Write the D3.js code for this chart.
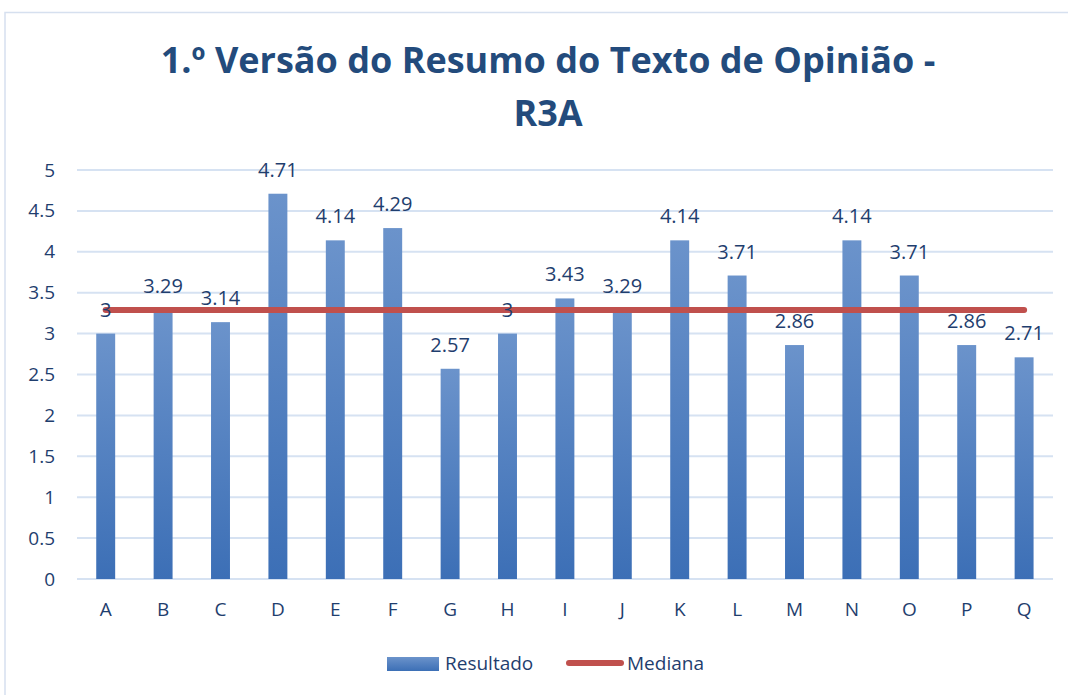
<!DOCTYPE html>
<html>
<head>
<meta charset="utf-8">
<script src="https://cdn.jsdelivr.net/npm/d3@7"></script>
<style>
  body { margin: 0; background: #fff; overflow: hidden; }
  text { font-family: "Open Sans", "Noto Sans", sans-serif; }
</style>
</head>
<body>
<div class="chart"></div>
<script>
var categories = ["A", "B", "C", "D", "E", "F", "G", "H", "I", "J", "K", "L", "M", "N", "O", "P", "Q"];
var resultado = [3, 3.29, 3.14, 4.71, 4.14, 4.29, 2.57, 3, 3.43, 3.29, 4.14, 3.71, 2.86, 4.14, 3.71, 2.86, 2.71];
var mediana = 3.29;
var yTicks = [0, 0.5, 1, 1.5, 2, 2.5, 3, 3.5, 4, 4.5, 5];
var titleLines = ["1.º Versão do Resumo do Texto de Opinião -", "R3A"];
var legendNames = ["Resultado", "Mediana"];

var W = 1068, H = 695;
var margins = { top: 170, left: 77, right: 15, bottom: 116 };
var width = W - margins.left - margins.right;
var height = H - margins.top - margins.bottom;
var textColor = "#1f3e6e";

var svg = d3.select('.chart')
    .append('svg')
    .attr('width', W)
    .attr('height', H)
    .style('display', 'block');

// gradient for bars
var defs = svg.append('defs');
var grad = defs.append('linearGradient')
    .attr('id', 'barGrad')
    .attr('x1', 0).attr('y1', 0).attr('x2', 0).attr('y2', 1);
grad.append('stop').attr('offset', '0%').attr('stop-color', '#6b93cb');
grad.append('stop').attr('offset', '100%').attr('stop-color', '#3c6fb6');

// chart border (only left and top edges show in the picture)
svg.append('path')
    .attr('d', 'M5,' + H + 'V12.5H' + W)
    .attr('fill', 'none')
    .attr('stroke', '#d6e0ef')
    .attr('stroke-width', 1.5);

// title
titleLines.forEach(function (t, i) {
    svg.append('text')
        .attr('x', 548)
        .attr('y', 73 + i * 53)
        .attr('text-anchor', 'middle')
        .attr('font-size', 36)
        .attr('font-weight', 'bold')
        .attr('fill', '#234b7c')
        .text(t);
});

var g = svg.append('g')
    .attr('transform', 'translate(' + margins.left + ',' + margins.top + ')');

var xScale = d3.scaleBand()
    .domain(categories)
    .range([0, 57.4 * categories.length])
    .paddingInner(0.67)
    .paddingOuter(0.335);

var yScale = d3.scaleLinear()
    .domain([0, 5])
    .range([height, 0]);

// gridlines
g.selectAll('line.grid')
    .data(yTicks)
    .enter()
    .append('line')
    .attr('class', 'grid')
    .attr('x1', 0)
    .attr('x2', 976)
    .attr('y1', function (d) { return yScale(d); })
    .attr('y2', function (d) { return yScale(d); })
    .attr('stroke', '#d6e2f2')
    .attr('stroke-width', 2);

// y axis labels
var yAxis = d3.axisLeft(yScale)
    .tickValues(yTicks)
    .tickSize(0)
    .tickPadding(22)
    .tickFormat(function (d) { return d; });
var ya = g.append('g').call(yAxis);
ya.select('.domain').remove();
ya.selectAll('text')
    .attr('font-size', 19)
    .attr('fill', textColor)
    .style('font-family', '"Open Sans", sans-serif');

// x axis labels
var xAxis = d3.axisBottom(xScale).tickSize(0).tickPadding(24);
var xa = g.append('g')
    .attr('transform', 'translate(0,' + height + ')')
    .call(xAxis);
xa.select('.domain').remove();
xa.selectAll('text')
    .attr('font-size', 19)
    .attr('fill', textColor)
    .style('font-family', '"Open Sans", sans-serif');

// bars
var data = categories.map(function (c, i) { return { cat: c, val: resultado[i] }; });
g.selectAll('rect.bar')
    .data(data)
    .enter()
    .append('rect')
    .attr('class', 'bar')
    .attr('x', function (d) { return xScale(d.cat); })
    .attr('y', function (d) { return yScale(d.val); })
    .attr('width', xScale.bandwidth())
    .attr('height', function (d) { return height - yScale(d.val); })
    .attr('fill', 'url(#barGrad)');

// median line
var line = d3.line()
    .x(function (d) { return xScale(d) + xScale.bandwidth() / 2; })
    .y(function () { return yScale(mediana); });
g.append('path')
    .datum([categories[0], categories[categories.length - 1]])
    .attr('d', line)
    .attr('stroke', '#c0504d')
    .attr('stroke-width', 6)
    .attr('stroke-linecap', 'round')
    .attr('fill', 'none');

// value labels
g.selectAll('text.val')
    .data(data)
    .enter()
    .append('text')
    .attr('class', 'val')
    .attr('x', function (d) { return xScale(d.cat) + xScale.bandwidth() / 2; })
    .attr('y', function (d) { return yScale(d.val) - 17; })
    .attr('text-anchor', 'middle')
    .attr('font-size', 20)
    .attr('fill', textColor)
    .text(function (d) { return d.val; });

// legend
var leg = svg.append('g');
leg.append('rect')
    .attr('x', 387).attr('y', 657)
    .attr('width', 52).attr('height', 14)
    .attr('fill', 'url(#barGrad)');
leg.append('text')
    .attr('x', 445).attr('y', 670)
    .attr('font-size', 19)
    .attr('fill', textColor)
    .text(legendNames[0]);
leg.append('line')
    .attr('x1', 569).attr('x2', 621)
    .attr('y1', 663).attr('y2', 663)
    .attr('stroke', '#c0504d')
    .attr('stroke-width', 6)
    .attr('stroke-linecap', 'round');
leg.append('text')
    .attr('x', 627).attr('y', 670)
    .attr('font-size', 19)
    .attr('fill', textColor)
    .text(legendNames[1]);
</script>
</body>
</html>
